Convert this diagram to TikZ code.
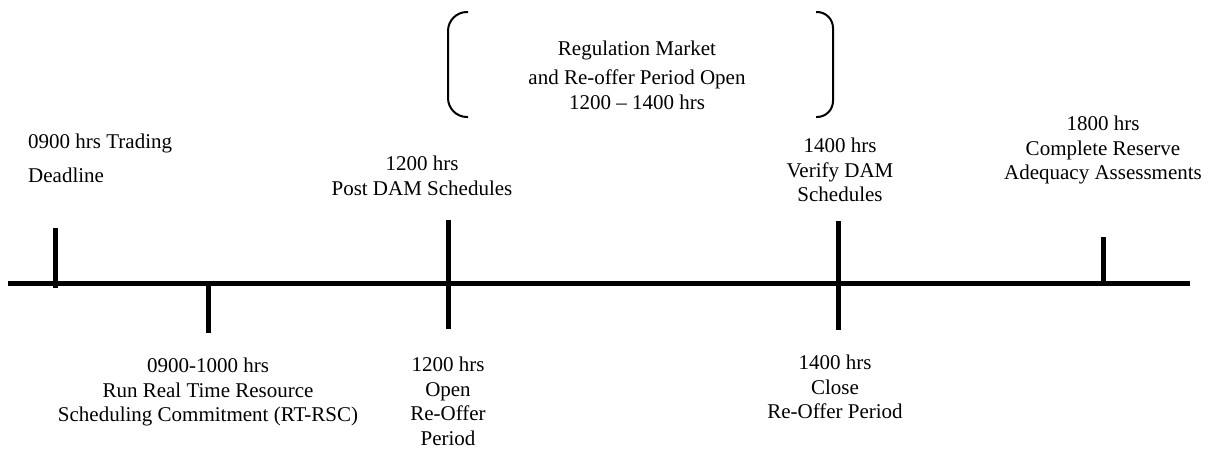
\documentclass[tikz,border=0pt]{standalone}
\usepackage{fontspec}
\setmainfont{Liberation Serif}
\tikzset{
  lbl/.style={inner sep=0pt, align=center, anchor=north, font=\fontsize{21}{24.5}\selectfont},
  lbll/.style={inner sep=0pt, align=left, anchor=north west, font=\fontsize{21}{24.5}\selectfont},
  axisline/.style={line width=5pt},
  tickline/.style={line width=5pt},
  bracketline/.style={line width=2pt},
}
\begin{document}
\begin{tikzpicture}[x=1pt,y=-1pt]
\useasboundingbox (0,0) rectangle (1215,450);
% axis
\coordinate (axL) at (8,283);
\coordinate (axR) at (1190,283);
\draw[axisline] (axL) -- (axR);
% ticks
\coordinate (t1a) at (55,228); \coordinate (t1b) at (55,288);
\coordinate (t2a) at (208,283); \coordinate (t2b) at (208,333);
\coordinate (t3a) at (448,220); \coordinate (t3b) at (448,329);
\coordinate (t4a) at (838,221); \coordinate (t4b) at (838,330);
\coordinate (t5a) at (1103,237); \coordinate (t5b) at (1103,283);
\draw[tickline] (t1a) -- (t1b);
\draw[tickline] (t2a) -- (t2b);
\draw[tickline] (t3a) -- (t3b);
\draw[tickline] (t4a) -- (t4b);
\draw[tickline] (t5a) -- (t5b);
% brackets
\draw[bracketline, rounded corners=19pt] (468,12) -- (448,12) -- (448,117) -- (468,117);
\draw[bracketline, rounded corners=16pt] (816,12) -- (833,12) -- (833,117) -- (816,117);
% labels above
\node[lbl] (reg) at (637,41) {Regulation Market\\[4.5pt]and Re-offer Period Open\\1200 -- 1400 hrs};
\node[lbll] (l1) at (28,134) {0900 hrs Trading\\[9.5pt]Deadline};
\node[lbl] (l3) at (422,156) {1200 hrs\\Post DAM Schedules};
\node[lbl] (l4) at (840,138) {1400 hrs\\Verify DAM\\Schedules};
\node[lbl] (l5) at (1103,116) {1800 hrs\\Complete Reserve\\Adequacy Assessments};
% labels below
\node[lbl] (l2) at (208,358) {0900-1000 hrs\\Run Real Time Resource\\Scheduling Commitment (RT-RSC)};
\node[lbl] (l3b) at (448,357) {1200 hrs\\Open\\Re-Offer\\Period};
\node[lbl] (l4b) at (835,355) {1400 hrs\\Close\\Re-Offer Period};
\end{tikzpicture}
\end{document}
